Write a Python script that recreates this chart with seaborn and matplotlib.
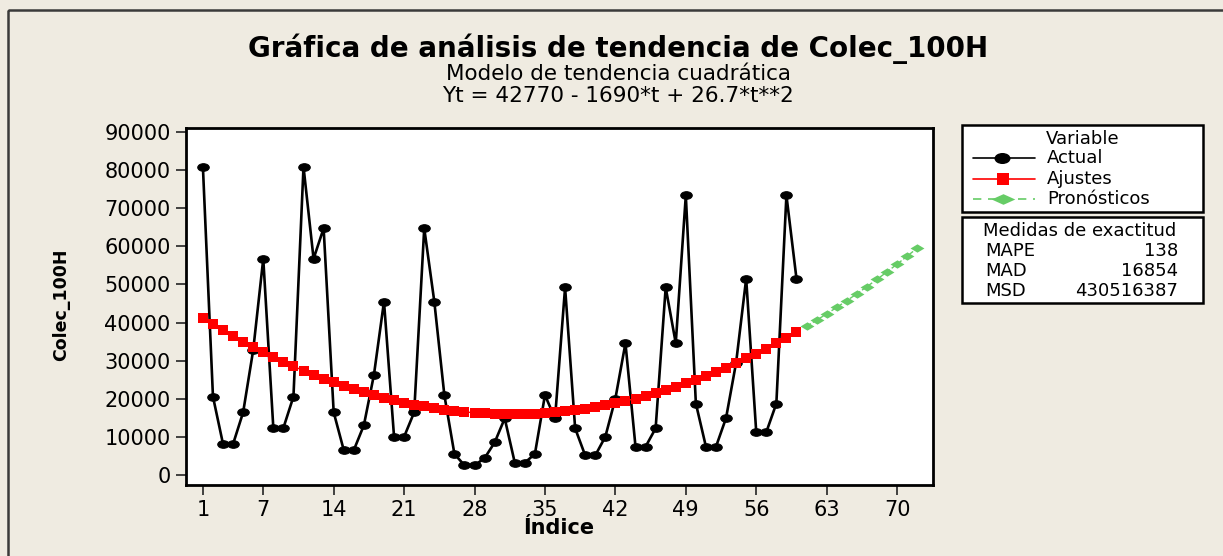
import numpy as np
import pandas as pd
import matplotlib
matplotlib.use("Agg")
import matplotlib.pyplot as plt
import seaborn as sns
from matplotlib.patches import Rectangle
from matplotlib.lines import Line2D
from matplotlib.path import Path

# ---------------- data ----------------
actual = [80800, 20600, 8200, 8200, 16500, 32800, 56700, 12400, 12400, 20600,
          80800, 56700, 64700, 16500, 6600, 6600, 13100, 26300, 45500, 10100,
          10100, 16500, 64700, 45500, 21000, 5600, 2600, 2600, 4500, 8600,
          14900, 3300, 3300, 5600, 21000, 14900, 49200, 12300, 5200, 5200,
          10100, 20100, 34600, 7500, 7500, 12300, 49200, 34600, 73300, 18800,
          7500, 7500, 15000, 29500, 51500, 11300, 11300, 18800, 73300, 51500]
fitted = [41107, 39497, 37940, 36437, 34988, 33591, 32248, 30959, 29723, 28540,
          27411, 26335, 25312, 24343, 23428, 22565, 21756, 21001, 20299, 19650,
          19055, 18513, 18024, 17589, 17208, 16879, 16604, 16383, 16215, 16100,
          16039, 16031, 16076, 16175, 16328, 16533, 16792, 17105, 17471, 17890,
          18363, 18889, 19468, 20101, 20788, 21527, 22320, 23167, 24067, 25020,
          26027, 27087, 28200, 29367, 30588, 31861, 33188, 34569, 36003, 37490]
forecast = [39031, 40625, 42272, 43973, 45728, 47535, 49396, 51311, 53279,
            55300, 57375, 59503]
idx_obs = list(range(1, 61))
idx_fc = list(range(61, 73))

x_ticks = [1, 7, 14, 21, 28, 35, 42, 49, 56, 63, 70]
y_ticks = [0, 10000, 20000, 30000, 40000, 50000, 60000, 70000, 80000, 90000]

title = "Gráfica de análisis de tendencia de Colec_100H"
subtitle = "Modelo de tendencia cuadrática"
equation = "Yt = 42770 - 1690*t + 26.7*t**2"
xlabel = "Índice"
ylabel = "Colec_100H"
legend_title = "Variable"
legend_labels = ["Actual", "Ajustes", "Pronósticos"]
acc_title = "Medidas de exactitud"
acc_names = ["MAPE", "MAD", "MSD"]
acc_values = ["138", "16854", "430516387"]

# ---------------- style ----------------
W, H = 1223, 556
BG = "#EFEBE1"
RED = "#FF0000"
GREEN = "#66CC66"

sns.set_theme(style="white")
plt.rcParams["font.family"] = ["DejaVu Sans"]
plt.rcParams["text.color"] = "black"
plt.rcParams["xtick.color"] = "#333333"
plt.rcParams["ytick.color"] = "#333333"

ell = Path.unit_circle().transformed(matplotlib.transforms.Affine2D().scale(1.0, 0.66))
diam = Path([(-1, 0), (0, 0.6), (1, 0), (0, -0.6), (-1, 0)],
            [Path.MOVETO, Path.LINETO, Path.LINETO, Path.LINETO, Path.CLOSEPOLY])
diam_leg = Path([(-1, 0), (0, 0.45), (1, 0), (0, -0.45), (-1, 0)],
                [Path.MOVETO, Path.LINETO, Path.LINETO, Path.LINETO, Path.CLOSEPOLY])

fig = plt.figure(figsize=(W / 100, H / 100), dpi=100, facecolor=BG)

L, R, T, B = 186, 933, 128, 485
ax = fig.add_axes([L / W, 1 - B / H, (R - L) / W, (B - T) / H])
ax.set_facecolor("white")

df_a = pd.DataFrame({"t": idx_obs, "v": actual})
df_f = pd.DataFrame({"t": idx_obs, "v": fitted})
df_p = pd.DataFrame({"t": idx_fc, "v": forecast})

sns.lineplot(data=df_a, x="t", y="v", ax=ax, color="black", linewidth=1.9,
             marker=ell, markersize=8.3, markeredgecolor="black", markerfacecolor="black",
             zorder=3)
sns.lineplot(data=df_f, x="t", y="v", ax=ax, color=RED, linewidth=1.0,
             marker="s", markersize=7.2, markeredgewidth=0, markerfacecolor=RED,
             zorder=4)
sns.lineplot(data=df_p, x="t", y="v", ax=ax, color=GREEN, linewidth=1.0,
             linestyle="--", marker=diam, markersize=10, markeredgewidth=0,
             markerfacecolor=GREEN, zorder=5)

ax.set_xlim(-0.68, 73.57)
ax.set_ylim(-2540, 90950)
ax.set_xticks(x_ticks)
ax.set_xticklabels([str(v) for v in x_ticks])
ax.set_yticks(y_ticks)
ax.set_yticklabels([str(v) for v in y_ticks])
ax.tick_params(axis="both", direction="out", length=7, width=1.3, color="#333333",
               labelsize=15, pad=4, labelcolor="black", bottom=True, left=True)
for s in ax.spines.values():
    s.set_color("black")
    s.set_linewidth(2)
ax.set_xlabel("")
ax.set_ylabel("")
ax.grid(False)

# ---------------- overlay (pixel coords) ----------------
ov = fig.add_axes([0, 0, 1, 1], facecolor="none")
ov.set_xlim(0, W)
ov.set_ylim(H, 0)
ov.axis("off")

ov.add_patch(Rectangle((8, 10), 1400, 700, fill=False, edgecolor="#3A3A3A",
                       linewidth=1.8, clip_on=False))

ov.text(618, 57, title, ha="center", va="baseline", fontsize=20,
        fontweight="bold", color="black")
ov.text(618, 80, subtitle, ha="center", va="baseline", fontsize=15.5, color="black")
ov.text(618, 102, equation, ha="center", va="baseline", fontsize=15.5, color="black")
ov.text(61, 305, ylabel, ha="center", va="center", rotation=90, fontsize=12.5,
        fontweight="bold", color="black")
ov.text(559, 528, xlabel, ha="center", va="center", fontsize=15, fontweight="bold",
        color="black")

# legend box
ov.add_patch(Rectangle((962, 125), 241, 87, facecolor="white", edgecolor="black",
                       linewidth=1.8))
ov.text(1083, 139, legend_title, ha="center", va="center", fontsize=13)
ys = [158, 179, 199]
ov.add_line(Line2D([973, 1035], [ys[0], ys[0]], color="black", linewidth=1.2))
ov.plot([1002], [ys[0]], marker=ell, markersize=10.5, color="black")
ov.add_line(Line2D([973, 1035], [ys[1], ys[1]], color=RED, linewidth=1.2))
ov.plot([1003], [ys[1]], marker="s", markersize=9, color=RED, markeredgewidth=0)
ov.add_line(Line2D([973, 1035], [ys[2], ys[2]], color=GREEN, linewidth=1.2,
                   linestyle=(0, (5, 4))))
ov.plot([1003], [ys[2]], marker=diam_leg, markersize=17, color=GREEN, markeredgewidth=0)
for yy, lab in zip(ys, legend_labels):
    ov.text(1047, yy, lab, ha="left", va="center", fontsize=13)

# accuracy box
ov.add_patch(Rectangle((962, 217), 241, 86, facecolor="white", edgecolor="black",
                       linewidth=1.8))
ov.text(983, 231, acc_title, ha="left", va="center", fontsize=13)
for yy, n, v in zip([251, 271, 291], acc_names, acc_values):
    ov.text(985, yy, n, ha="left", va="center", fontsize=13)
    ov.text(1178, yy, v, ha="right", va="center", fontsize=13)

fig.savefig("out.png", dpi=100, facecolor=BG)
